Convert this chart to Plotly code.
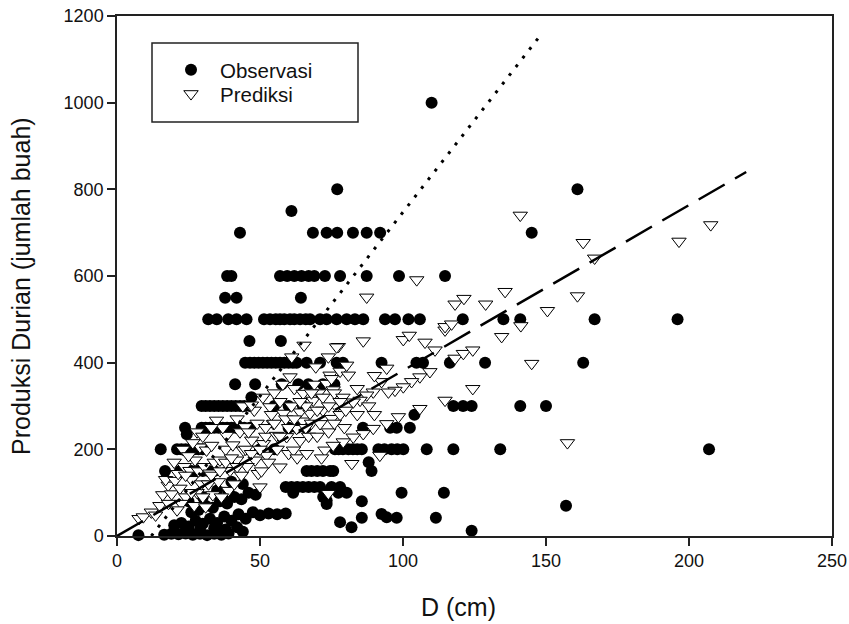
import plotly.graph_objects as go

# ---------------- data ----------------
# Observed fruit production (filled circles)
obs_d = [
    110,
    77, 161,
    61,
    43, 68.5, 73.3, 77, 82.5, 87.3, 92, 145,
    38.5, 40, 57, 59.5, 62, 64.5, 67, 69, 72.7, 78, 87.3, 98.6, 114.7,
    37.8, 41.8, 64.3,
    31.9, 34.9, 38.9, 41.8, 45.3, 51.4, 53.5, 55.5, 57, 58.5,
    60.5, 62, 64, 66, 67.5, 71, 73.3, 76.8, 80.3, 83.2,
    86.1, 93.7, 97.2, 101.9, 105.9, 120.9, 135.1, 141, 167, 196,
    46.3, 57.3,
    44.8, 46.5, 48, 49.5, 51, 52.5, 54, 55.5, 57, 58.5,
    60, 61.5, 62.8, 66.3, 71, 76.8, 79, 92.5, 104.7, 107,
    116.4, 128.7, 163,
    41.3, 48.3, 57.6, 63.4, 66.9, 72, 76,
    47,
    29.6, 31, 32.5, 34, 35.5, 37, 38.5, 40, 41.5, 43,
    44.5, 46.5, 55, 60, 65, 117.6, 121, 124, 141, 150,
    104,
    23.8, 29.6, 31, 32.5, 34, 35.5, 37, 38.5, 40, 41.5,
    43, 44.5, 46.5, 60, 63, 66, 86, 95.5, 97.8, 102.4,
    24.4,
    15.3, 21, 22.5, 24, 25.5, 27, 28.5, 30, 50, 55,
    76.2, 77.5, 79, 80.9, 82.5, 84, 85.6, 91.4, 93.5, 96,
    98, 100.1, 108.3, 117.6, 134, 207,
    88,
    16.8, 22, 24, 26, 28, 30, 32, 34, 66.3, 68,
    70, 72, 74.5, 75.6, 89,
    59, 61, 63, 65, 67, 69, 71, 75, 78,
    72.7, 77.4, 80.3, 99.5, 114.3, 61.6,
    72.1, 73.3, 85.6, 78, 82, 85.6, 92.5, 94.3, 97.8, 111.5, 124, 157, 73.3,
    7.5, 16.5, 19, 21.5, 24, 26.5, 29, 31.5, 34, 36.5, 39,
    20, 22.5, 25, 27.5, 30, 32.5, 35, 37.5, 40, 42.5, 45, 47.5, 50, 53, 56, 59,
    26, 28.5, 31, 33.5, 36, 38.5, 41, 43.5, 46, 48.5, 39, 35,
    24, 29, 34, 38, 42, 44, 25, 30, 44, 40,
]
obs_p = [
    1000,
    800, 800,
    750,
    700, 700, 700, 700, 700, 700, 700, 700,
    600, 600, 600, 600, 600, 600, 600, 600, 600, 600, 600, 600, 600,
    550, 550, 550,
    500, 500, 500, 500, 500, 500, 500, 500, 500, 500,
    500, 500, 500, 500, 500, 500, 500, 500, 500, 500,
    500, 500, 500, 500, 500, 500, 500, 500, 500, 500,
    450, 450,
    400, 400, 400, 400, 400, 400, 400, 400, 400, 400,
    400, 400, 400, 400, 400, 400, 400, 400, 400, 400,
    400, 400, 400,
    350, 350, 350, 350, 350, 350, 350,
    320,
    300, 300, 300, 300, 300, 300, 300, 300, 300, 300,
    300, 300, 300, 300, 300, 300, 300, 300, 300, 300,
    280,
    250, 250, 250, 250, 250, 250, 250, 250, 250, 250,
    250, 250, 250, 250, 250, 250, 250, 250, 250, 250,
    235,
    200, 200, 200, 200, 200, 200, 200, 200, 200, 200,
    200, 200, 200, 200, 200, 200, 200, 200, 200, 200,
    200, 200, 200, 200, 200, 200,
    170,
    150, 150, 150, 150, 150, 150, 150, 150, 150, 150,
    150, 150, 150, 150, 150,
    113, 113, 113, 113, 113, 113, 113, 113, 113,
    100, 100, 100, 100, 100, 100,
    90, 74, 80, 32, 20, 42, 51, 43, 42, 42, 12, 70, 82,
    2, 3, 5, 4, 6, 3, 5, 2, 5, 3, 6,
    25, 30, 22, 35, 28, 40, 30, 45, 35, 50, 40, 55, 48, 52, 50, 52,
    55, 60, 70, 65, 80, 75, 90, 85, 100, 95, 100, 105,
    12, 15, 18, 15, 20, 10, 80, 90, 120, 125,
]

# Predicted fruit production (open triangles)
pred_d = [
    7.7, 9.2, 12, 13.5, 15, 16, 17.9, 19.1, 18, 17,
    20.3, 21.4, 22, 23.5, 24, 22.5, 21,
    25.5, 27.3, 26, 28, 29, 28.5, 27, 29.5,
    31.3, 33.1, 34.8, 30.5, 32, 33.5, 34, 31, 32.5,
    36, 38.3, 39.5, 37, 35.5, 38, 39, 36.5,
    41.8, 43, 44.2, 44.8, 40.5, 42, 43.5, 41, 44,
    47.1, 48.3, 49.4, 50, 46, 48, 45.5, 47, 49,
    51.2, 52.3, 53.5, 54.7, 52, 54, 53, 51, 50.5,
    55.8, 57, 58.2, 59.3, 57, 56, 59, 55, 58, 60,
    61.7, 62.8, 64, 62, 64, 61, 63, 60.5, 61.1, 65,
    65.1, 66.3, 67.5, 68.6, 66, 68, 69, 67, 65.4, 69.5,
    71, 72.7, 73.3, 73.9, 70, 72, 74, 70.5, 73.9, 74.5, 71.5,
    75.1, 75.6, 76.8, 76, 78, 78, 79.5, 77.4, 76.8, 79,
    80.3, 80.9, 75, 94.3, 109.4, 105.9, 103, 100.1, 97.2, 94.9,
    92.5, 89.6, 87.3, 85, 82.6, 124.4, 114.7, 105.9, 98.4, 94.3,
    89.6, 86.1, 82.6, 79.1, 75.6, 91.9, 82.1,
    114.7, 100.1, 102.2, 86.1, 107.7, 111.2, 118.2, 121.1, 124.4,
    104.8, 87.3, 118.2, 121.3, 128.9, 114.7, 117,
    141, 163, 196.5, 207.6, 167, 135.7, 161, 150.5, 141.2, 134.5, 145, 157.5,
    23, 25, 20, 26.5, 28, 24, 26, 30, 33, 36,
    38, 40, 42, 45, 47, 50, 52, 55, 57, 60,
    62, 64, 66, 68, 70, 72, 74, 76, 78, 80,
    84, 88, 90, 84, 90, 30, 33,
]
pred_p = [
    40, 44, 55, 48, 70, 95, 117, 97, 75, 130,
    128, 144, 110, 160, 90, 75, 60,
    151, 175, 130, 100, 205, 150, 70, 120,
    198, 209, 267, 160, 120, 95, 170, 67, 145,
    175, 232, 151, 250, 125, 200, 105, 90,
    175, 240, 198, 252, 210, 270, 140, 120, 300,
    221, 175, 144, 113, 240, 290, 160, 302, 260,
    213, 186, 298, 259, 230, 280, 170, 320, 150,
    232, 159, 283, 229, 310, 200, 270, 330, 350, 190,
    198, 248, 286, 340, 220, 300, 180, 367, 413, 265,
    329, 190, 283, 313, 300, 260, 350, 230, 440, 390,
    259, 198, 352, 98, 230, 290, 240, 330, 413, 371, 180,
    271, 337, 298, 330, 280, 380, 250, 437, 436, 320,
    394, 371, 363, 387, 379, 367, 356, 344, 336, 332,
    356, 332, 325, 313, 309, 340, 313, 294, 275, 259,
    248, 236, 228, 217, 209, 186, 167,
    475, 453, 463, 450, 447, 429, 410, 421, 429,
    591, 551, 535, 548, 535, 483, 489,
    740, 677, 680, 718, 641, 564, 554, 520, 485, 460, 398, 215,
    200, 185, 170, 215, 240, 140, 100, 90, 140, 150,
    170, 180, 160, 200, 190, 200, 250, 260, 230, 250,
    270, 310, 250, 330, 290, 320, 300, 260, 310, 290,
    280, 300, 280, 340, 370, 230, 250,
]

# Fitted lines (end points)
dotted_d = [12, 148]
dotted_p = [0, 1155]
dashed_d = [0, 220]
dashed_p = [0, 840]

x_ticks = [0, 50, 100, 150, 200, 250]
y_ticks = [0, 200, 400, 600, 800, 1000, 1200]

assert len(obs_d) == len(obs_p)
assert len(pred_d) == len(pred_p)

FONT = "Arial, 'Liberation Sans', sans-serif"

fig = go.Figure()
fig.add_trace(go.Scatter(
    x=obs_d, y=obs_p, mode="markers", name="Observasi",
    marker=dict(symbol="circle", size=12, color="black", line=dict(width=0)),
    cliponaxis=False, legend="legend",
))
fig.add_trace(go.Scatter(
    x=pred_d, y=pred_p, mode="markers", name="Prediksi",
    marker=dict(symbol="triangle-down", size=12.5, color="white",
                line=dict(color="black", width=1)),
    cliponaxis=False, legend="legend2",
))
fig.add_trace(go.Scatter(
    x=dotted_d, y=dotted_p, mode="lines", showlegend=False,
    line=dict(color="black", width=3, dash="3px,8px"),
))
fig.add_trace(go.Scatter(
    x=dashed_d, y=dashed_p, mode="lines", showlegend=False,
    line=dict(color="black", width=2.5, dash="30px,12px"),
))

L, R, T, B = 117, 17, 16, 88
plot_w = 849 - L - R
plot_h = 624 - T - B


def px_x(px):
    return (px - L) / plot_w


def px_y(py):
    return (624 - B - py) / plot_h


axis_common = dict(
    showgrid=False, zeroline=False, showline=True, mirror=True,
    linecolor="#222", linewidth=1.5,
    ticks="outside", ticklen=8, tickwidth=1.5, tickcolor="#222",
    tickfont=dict(family=FONT, size=18, color="#111"),
)

legend_common = dict(
    xanchor="left", yanchor="middle",
    font=dict(family=FONT, size=20.5, color="#111"),
    bgcolor="rgba(0,0,0,0)", borderwidth=0, itemwidth=48,
)

fig.update_layout(
    width=849, height=624,
    margin=dict(l=L, r=R, t=T, b=B, autoexpand=False),
    paper_bgcolor="white", plot_bgcolor="white",
    showlegend=True,
    xaxis=dict(range=[0, 250], tickvals=x_ticks, **axis_common),
    yaxis=dict(range=[0, 1200], tickvals=y_ticks, **axis_common),
    legend=dict(x=px_x(162), y=px_y(70), **legend_common),
    legend2=dict(x=px_x(162), y=px_y(94), **legend_common),
    shapes=[dict(type="rect", xref="paper", yref="paper",
                 x0=px_x(152), x1=px_x(358), y0=px_y(122), y1=px_y(43),
                 line=dict(color="#222", width=1.5), fillcolor="rgba(0,0,0,0)")],
    annotations=[
        dict(text="D (cm)", xref="paper", yref="paper", x=px_x(458), y=px_y(607),
             xanchor="center", yanchor="middle", showarrow=False,
             font=dict(family=FONT, size=25, color="#111")),
        dict(text="Produksi Durian (jumlah buah)", xref="paper", yref="paper",
             x=px_x(21), y=px_y(286), textangle=-90,
             xanchor="center", yanchor="middle", showarrow=False,
             font=dict(family=FONT, size=25, color="#111")),
    ],
)

fig.write_html("out.html", config={"displayModeBar": False},
               post_script="document.body.style.margin='0';")
